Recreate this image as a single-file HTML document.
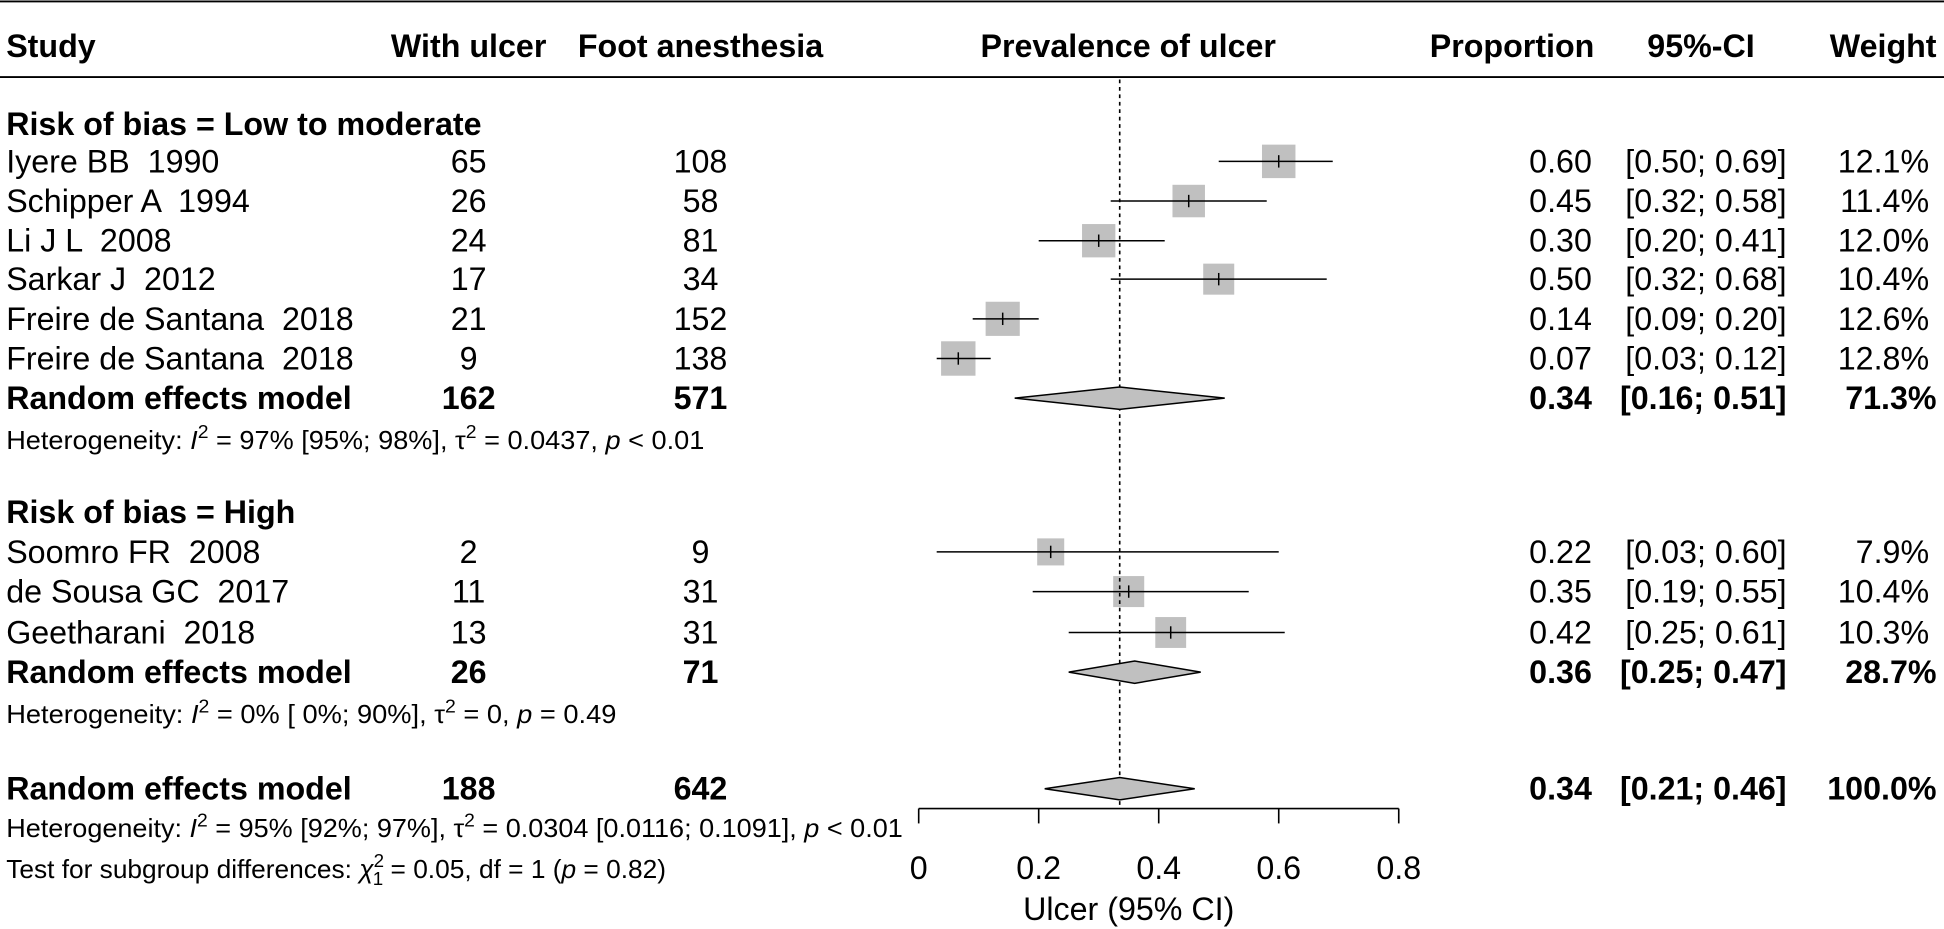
<!DOCTYPE html>
<html><head><meta charset="utf-8"><style>
html,body{margin:0;padding:0;background:#fff}
svg{display:block}
text{font-family:"Liberation Sans",Arial,sans-serif;fill:#000;white-space:pre}
.b{font-weight:bold}
.m{font-size:26px}
.h{font-size:21px}
</style></head><body>
<svg id="plot" width="1944" height="929" viewBox="0 0 1568 749" xmlns="http://www.w3.org/2000/svg">
<line x1="0" y1="1" x2="1568" y2="1" stroke="#000" stroke-width="1.5"/>
<line x1="0" y1="62" x2="1568" y2="62" stroke="#000" stroke-width="1.5"/>
<g class="m b" dominant-baseline="central">
<text x="5" y="37">Study</text>
<text x="378" y="37" text-anchor="middle">With ulcer</text>
<text x="565" y="37" text-anchor="middle">Foot anesthesia</text>
<text x="910" y="37" text-anchor="middle">Prevalence of ulcer</text>
<text x="1286" y="37" text-anchor="end">Proportion</text>
<text x="1372" y="37" text-anchor="middle">95%-CI</text>
<text x="1562" y="37" text-anchor="end">Weight</text>
</g>
<g id="rows"></g>
<g id="axis"></g>
</svg>
<script>
const studies = ["Iyere BB  1990","Schipper A  1994","Li J L  2008","Sarkar J  2012","Freire de Santana  2018","Freire de Santana  2018","Soomro FR  2008","de Sousa GC  2017","Geetharani  2018"];
const groups = [0,0,0,0,0,0,1,1,1];
const events = [65,26,24,17,21,9,2,11,13];
const totals = [108,58,81,34,152,138,9,31,31];
const est = [0.60,0.45,0.30,0.50,0.14,0.066,0.22,0.35,0.42];
const lo = [0.50,0.32,0.20,0.32,0.09,0.03,0.03,0.19,0.25];
const hi = [0.69,0.58,0.41,0.68,0.20,0.12,0.60,0.55,0.61];
const weights = [12.1,11.4,12.0,10.4,12.6,12.8,7.9,10.4,10.3];
const groupLabels = ["Risk of bias = Low to moderate","Risk of bias = High"];
const sumEvents = [162,26,188];
const sumTotals = [571,71,642];
const sumEst = [0.335,0.36,0.335];
const sumLo = [0.16,0.25,0.21];
const sumHi = [0.51,0.47,0.46];
const sumWeight = ["71.3%","28.7%","100.0%"];
const hetText = [
 ['Heterogeneity: ',['I','i'],['2','sup'],' = 97% [95%; 98%], ',['τ',''],['2','sup'],' = 0.0437, ',['p','i'],' < 0.01'],
 ['Heterogeneity: ',['I','i'],['2','sup'],' = 0% [ 0%; 90%], ',['τ',''],['2','sup'],' = 0, ',['p','i'],' = 0.49'],
 ['Heterogeneity: ',['I','i'],['2','sup'],' = 95% [92%; 97%], ',['τ',''],['2','sup'],' = 0.0304 [0.0116; 0.1091], ',['p','i'],' < 0.01'],
 ['Test for subgroup differences: ',['χ','i'],['2','sup'],['1','sub'],' = 0.05, df = 1 (',['p','i'],' = 0.82)']
];
const hetWidths = [563,492,723,541];
const ticks = [0,0.2,0.4,0.6,0.8];
const axisTitle = "Ulcer (95% CI)";

const NS="http://www.w3.org/2000/svg";
const X0=741, SC=484;
function xs(v){return X0+v*SC;}
const rows=document.getElementById('rows');
function el(tag,attrs,parent){const e=document.createElementNS(NS,tag);for(const k in attrs)e.setAttribute(k,attrs[k]);(parent||rows).appendChild(e);return e;}
function txt(s,x,y,cls,anchor,name){const t=el('text',{x:x,y:y,class:cls,'text-anchor':anchor||'start','dominant-baseline':'central'});t.textContent=s;


return t;}
const f2=v=>v.toFixed(2);
const rowY=[[130,162,194,225,257,289],[445,477,510]];
const groupY=[100,413], sumY=[321,542,636], hetY=[354,575,667,700];
groupLabels.forEach((g,i)=>txt(g,5,groupY[i],'m b','start','group-label'));
let gi=[0,0];
studies.forEach((s,i)=>{
 const g=groups[i];const y=rowY[g][gi[g]++];
 txt(s,5,y,'m','start','study-name');
 txt(String(events[i]),378,y,'m','middle','events-value');
 txt(String(totals[i]),565,y,'m','middle','total-value');
 txt(f2(est[i]),1284,y,'m','end','proportion-value');
 txt('['+f2(lo[i])+'; '+f2(hi[i])+']',1441,y,'m','end','ci-value');
 txt(weights[i].toFixed(1)+'%',1556,y,'m','end','weight-value');
 const sz=7.76*Math.sqrt(weights[i]);
 const r=el('rect',{x:xs(est[i])-sz/2,y:y-sz/2,width:sz,height:sz,fill:'#c0c0c0'});
 
 
 const l=el('line',{x1:xs(lo[i]),x2:xs(hi[i]),y1:y,y2:y,stroke:'#000','stroke-width':1.2});
 
 
 const t=el('line',{x1:xs(est[i]),x2:xs(est[i]),y1:y-5,y2:y+5,stroke:'#000','stroke-width':1.2});
 
 
});
const dl=el('line',{x1:xs(sumEst[2]),x2:xs(sumEst[2]),y1:64,y2:652,stroke:'#000','stroke-width':1.3,'stroke-dasharray':'3,3'});


for(let k=0;k<3;k++){
 const y=sumY[k];
 txt('Random effects model',5,y,'m b','start','summary-label');
 txt(String(sumEvents[k]),378,y,'m b','middle','summary-events');
 txt(String(sumTotals[k]),565,y,'m b','middle','summary-total');
 txt(f2(sumEst[k]),1284,y,'m b','end','summary-proportion');
 txt('['+f2(sumLo[k])+'; '+f2(sumHi[k])+']',1441,y,'m b','end','summary-ci');
 txt(sumWeight[k],1562,y,'m b','end','summary-weight');
 const p=el('polygon',{points:`${xs(sumLo[k])},${y} ${xs(sumEst[k])},${y-9} ${xs(sumHi[k])},${y} ${xs(sumEst[k])},${y+9}`,fill:'#c0c0c0',stroke:'#000','stroke-width':1.2});
 
 
}
hetText.forEach((parts,k)=>{
 const g=el('g',{});
 
 
 const t=el('text',{x:0,y:0,class:'h'},g);
 
 
 parts.forEach(p=>{
  const ts=document.createElementNS(NS,'tspan');
  if(typeof p==='string'){ts.textContent=p;}
  else{ts.textContent=p[0];
   if(p[1]==='i')ts.setAttribute('font-style','italic');
   if(p[1]==='sup'){ts.setAttribute('baseline-shift','60%');ts.setAttribute('font-size','15');}
   if(p[1]==='sub'){ts.setAttribute('dx','-9');ts.setAttribute('baseline-shift','-35%');ts.setAttribute('font-size','15');}
  }
  t.appendChild(ts);
 });
 const w=t.getComputedTextLength()||hetWidths[k];
 g.setAttribute('transform',`translate(5,${hetY[k]+8}) scale(${hetWidths[k]/w},1)`);
});
const ax=document.getElementById('axis');
const al=el('line',{x1:xs(ticks[0]),x2:xs(ticks[ticks.length-1]),y1:652,y2:652,stroke:'#000','stroke-width':1.3},ax);


ticks.forEach(v=>{
 const tk=el('line',{x1:xs(v),x2:xs(v),y1:652,y2:664,stroke:'#000','stroke-width':1.3},ax);
 
 
 const t=el('text',{x:xs(v),y:700,class:'m','text-anchor':'middle','dominant-baseline':'central'},ax);
 t.textContent=String(v);
 
 
});
const at=el('text',{x:xs(0.35),y:733,class:'m','text-anchor':'middle','dominant-baseline':'central'},ax);
at.textContent=axisTitle;


</script>
</body></html>
